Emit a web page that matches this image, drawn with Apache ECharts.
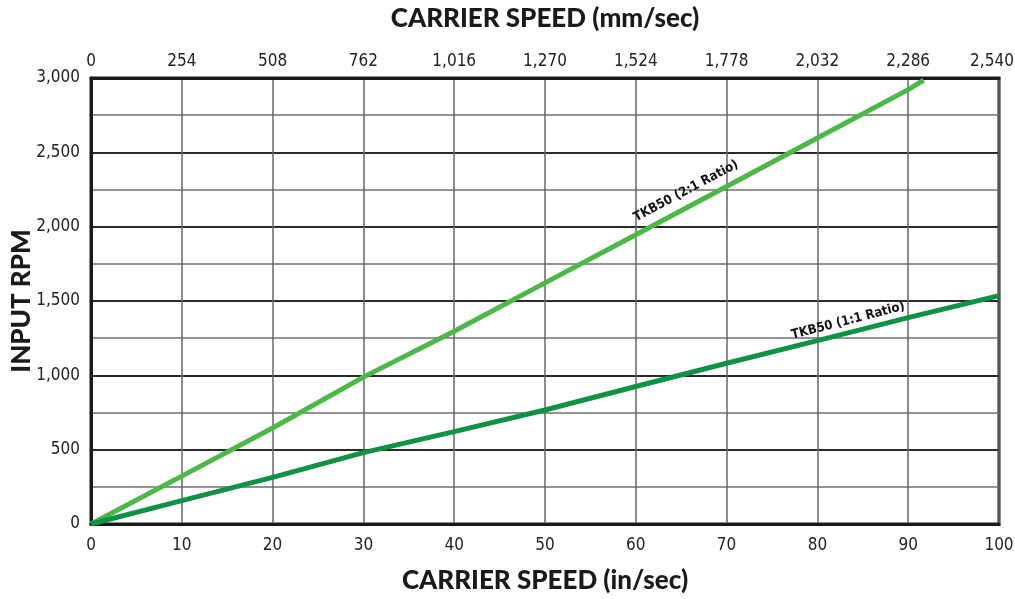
<!DOCTYPE html>
<html>
<head>
<meta charset="utf-8">
<script src="https://cdn.jsdelivr.net/npm/echarts@6/dist/echarts.min.js"></script>
<style>
  html, body { margin: 0; padding: 0; background: #fff; }
  #chart { width: 1015px; height: 599px; }
</style>
</head>
<body>
<div id="chart"></div>
<script>
// Carrier speed (in/sec) versus input RPM for the TKB50 drive
const speedIn = [0, 10, 20, 30, 40, 50, 60, 70, 80, 90, 91.7];
const rpmRatio2 = [0, 322, 646, 988, 1296, 1622, 1946, 2270, 2596, 2922, 2985];

const speedIn11 = [0, 10, 20, 30, 40, 50, 60, 70, 80, 90, 100];
const rpmRatio1 = [0, 157, 314, 480, 621, 767, 925, 1081, 1233, 1388, 1536];

const label2 = 'TKB50 (2:1 Ratio)';
const label1 = 'TKB50 (1:1 Ratio)';

const TICK_FONT = "'DejaVu Sans', sans-serif";
const TITLE_FONT = "Lato, 'Open Sans', sans-serif";
// condensed widths for the small numeric labels
const NARROW = 'normal condensed';
const NARROW_BOLD = 'bold condensed';

const MM_MAX = 2540;

function fmt(v) { return Math.round(v).toLocaleString('en-US'); }

function buildData(xs, ys, labelIdx, text, rot, off) {
  return xs.map((x, i) => {
    const item = { value: [x, ys[i]] };
    if (i === labelIdx) {
      item.label = {
        show: true, formatter: text, rotate: rot, position: 'inside',
        offset: off, color: '#111', fontFamily: TICK_FONT,
        fontSize: 13, fontWeight: NARROW_BOLD, align: 'center', verticalAlign: 'middle'
      };
    }
    return item;
  });
}

const tickLabel = { fontFamily: TICK_FONT, fontSize: 17, fontWeight: NARROW, color: '#222' };
const titleStyle = { fontFamily: TITLE_FONT, fontWeight: 900, fontSize: 26, color: '#1a1a1a' };

const chart = echarts.init(document.getElementById('chart'), null, { renderer: 'canvas' });

chart.setOption({
  animation: false,
  backgroundColor: '#ffffff',
  grid: { left: 91, right: 16, top: 78, bottom: 75, outerBoundsMode: 'none',
          show: true, borderColor: '#1a1a1a', borderWidth: 3 },
  xAxis: [
    {
      type: 'value', position: 'bottom', min: 0, max: 100, interval: 10,
      name: 'CARRIER SPEED (in/sec)', nameLocation: 'middle', nameGap: 44, nameMoveOverlap: false,
      nameTextStyle: titleStyle,
      axisLine: { show: true, lineStyle: { color: '#1a1a1a', width: 3 } },
      axisTick: { show: false },
      axisLabel: Object.assign({ margin: 13 }, tickLabel),
      splitLine: { show: true, lineStyle: { color: '#666', width: 1.5 } }
    },
    {
      type: 'value', position: 'top', min: 0, max: MM_MAX, interval: 254,
      name: 'CARRIER SPEED (mm/sec)', nameLocation: 'middle', nameGap: 46, nameMoveOverlap: false,
      nameTextStyle: titleStyle,
      axisLine: { show: true, lineStyle: { color: '#1a1a1a', width: 3 } },
      axisTick: { show: false },
      axisLabel: Object.assign({
        margin: 8,
        // last label sits against the page edge, nudge it inwards
        formatter: v => (v >= MM_MAX ? '{edge|' + fmt(v) + '}' : fmt(v)),
        rich: { edge: Object.assign({ padding: [0, 14, 0, 0] }, tickLabel) }
      }, tickLabel),
      splitLine: { show: false }
    }
  ],
  yAxis: {
    type: 'value', min: 0, max: 3000, interval: 500,
    name: 'INPUT RPM', nameLocation: 'middle', nameGap: 56, nameMoveOverlap: false,
    nameTextStyle: Object.assign({}, titleStyle, { fontSize: 26 }),
    axisLine: { show: true, lineStyle: { color: '#1a1a1a', width: 3 } },
    axisTick: { show: false },
    axisLabel: Object.assign({ margin: 11, formatter: fmt, padding: [14, 0, 0, 0] }, tickLabel),
    splitLine: { show: true, lineStyle: { color: '#2a2a2a', width: 2 } },
    minorTick: { show: false, splitNumber: 2 },
    minorSplitLine: { show: true, lineStyle: { color: '#707070', width: 1.5 } }
  },
  series: [
    {
      name: label2, type: 'line', xAxisIndex: 0,
      data: buildData(speedIn, rpmRatio2, 7, label2, 28, [-38, -15]),
      symbol: 'circle', symbolSize: 0, showSymbol: true,
      lineStyle: { color: '#4db848', width: 5 }, itemStyle: { color: '#4db848' },
      z: 3
    },
    {
      name: label1, type: 'line', xAxisIndex: 0,
      data: buildData(speedIn11, rpmRatio1, 9, label1, 14.5, [-59, -12]),
      symbol: 'circle', symbolSize: 0, showSymbol: true,
      lineStyle: { color: '#0f9146', width: 5 }, itemStyle: { color: '#0f9146' },
      z: 3
    }
  ]
});
</script>
</body>
</html>
